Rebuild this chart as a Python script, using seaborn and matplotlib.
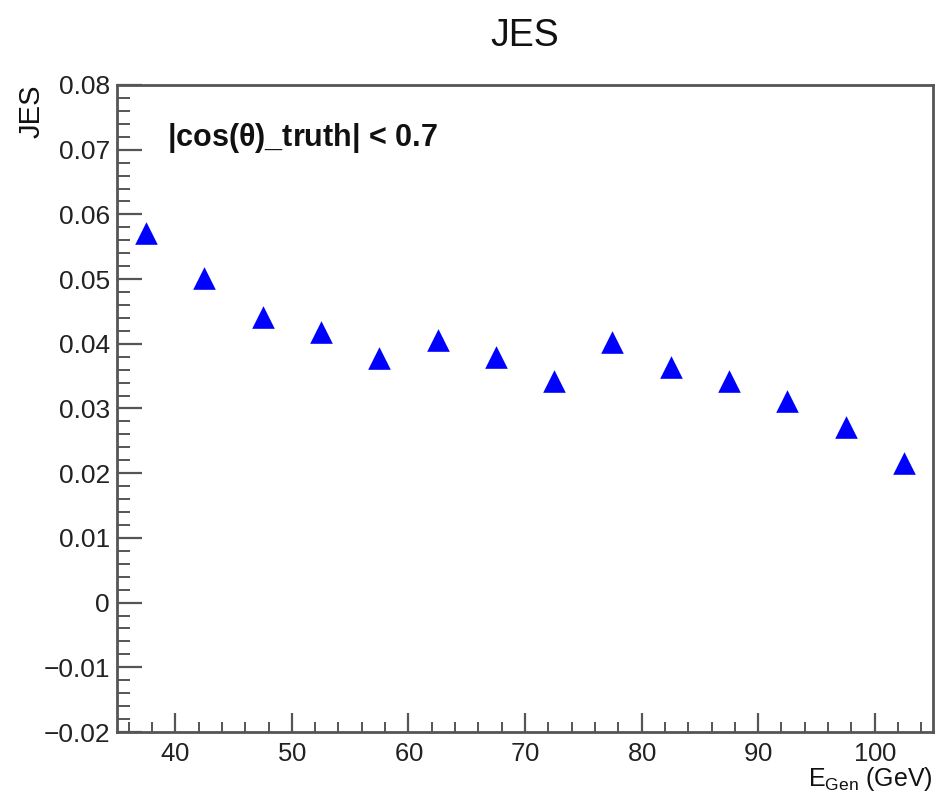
import matplotlib
matplotlib.use("Agg")
import matplotlib.pyplot as plt
from matplotlib.ticker import MultipleLocator, FuncFormatter
import seaborn as sns
import pandas as pd

# Jet energy scale per generator-level energy bin (bin centres in GeV)
e_gen = [37.5, 42.5, 47.5, 52.5, 57.5, 62.5, 67.5, 72.5, 77.5, 82.5, 87.5, 92.5, 97.5, 102.5]
jes = [0.0572, 0.0502, 0.0442, 0.0418, 0.0378, 0.0406, 0.0379, 0.0342, 0.0403, 0.0364, 0.0342, 0.0312, 0.0272, 0.0216]

title = "JES"
y_title = "JES"
x_title = r"E$_{\mathregular{Gen}}$ (GeV)"
selection = r"|cos($\mathregular{\theta}$)_truth| < 0.7"

sns.set_theme(style="white")
plt.rcParams["font.family"] = ["Liberation Sans", "DejaVu Sans"]
plt.rcParams["mathtext.fontset"] = "custom"
plt.rcParams["mathtext.rm"] = "Liberation Sans"

df = pd.DataFrame({"E_gen": e_gen, "JES": jes})

W, H = 938, 792
fig = plt.figure(figsize=(W / 100, H / 100), dpi=100)
ax = fig.add_axes([117 / W, 1 - 732 / H, (933 - 117) / W, (732 - 85) / H])

sns.scatterplot(data=df, x="E_gen", y="JES", ax=ax, marker="^", s=265,
                color="#0000ff", linewidth=0, zorder=3, legend=False)

ax.set_xlim(35, 105)
ax.set_ylim(-0.02, 0.08)
ax.set_xlabel("")
ax.set_ylabel("")

axis_col = "#555555"
for sp in ax.spines.values():
    sp.set_color(axis_col)
    sp.set_linewidth(2)
    sp.set_visible(True)

ax.xaxis.set_major_locator(MultipleLocator(10))
ax.xaxis.set_minor_locator(MultipleLocator(2))
ax.yaxis.set_major_locator(MultipleLocator(0.01))
ax.yaxis.set_minor_locator(MultipleLocator(0.002))

def yfmt(v, pos):
    s = f"{v:.2f}".rstrip("0").rstrip(".")
    if abs(v) < 1e-9:
        s = "0"
    return s.replace("-", "\u2212")

def xfmt(v, pos):
    # mathtext keeps the label box tight to the digits
    return r"$\mathregular{%d}$" % round(v)

ax.yaxis.set_major_formatter(FuncFormatter(yfmt))
ax.xaxis.set_major_formatter(FuncFormatter(xfmt))

ax.tick_params(axis="x", which="major", direction="in", length=14, width=1.6,
               color=axis_col, labelsize=18.5, pad=7, labelcolor="#222222",
               bottom=True, top=False)
ax.tick_params(axis="x", which="minor", direction="in", length=7.5, width=1.4,
               color=axis_col, bottom=True, top=False)
ax.tick_params(axis="y", which="major", direction="in", length=18, width=1.6,
               color=axis_col, labelsize=19, pad=5, labelcolor="#222222",
               left=True, right=False)
ax.tick_params(axis="y", which="minor", direction="in", length=9, width=1.4,
               color=axis_col, left=True, right=False)

fig.text(525 / W, 1 - 36 / H, title, ha="center", va="center", fontsize=27, color="#111111")
fig.text(32 / W, 1 - 85 / H, y_title, rotation=90, ha="center", va="top", fontsize=21, color="#111111")
fig.text(933 / W, 1 - 786 / H, x_title, ha="right", va="baseline", fontsize=18, color="#111111")
fig.text(167 / W, 1 - 146 / H, selection, ha="left", va="baseline", fontsize=22,
         fontweight="bold", color="#111111")

fig.savefig("out.png", dpi=100, facecolor="white")
